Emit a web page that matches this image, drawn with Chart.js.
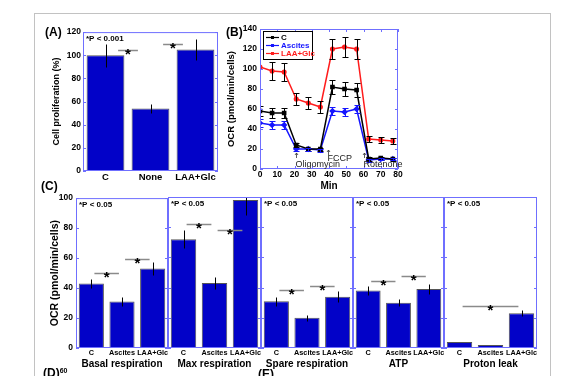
<!DOCTYPE html>
<html>
<head>
<meta charset="utf-8">
<script src="https://cdn.jsdelivr.net/npm/chart.js@4.4.0/dist/chart.umd.min.js"></script>
<style>
html, body { margin: 0; padding: 0; background: #fff; overflow: hidden; }
#fig { position: relative; width: 561px; height: 376px; overflow: hidden; font-family: "Liberation Sans", Arial, sans-serif; }
.frame { position: absolute; left: 34px; top: 13px; width: 517px; height: 420px; border: 1px solid #c2c2c2; box-sizing: border-box; }
.box { position: absolute; }
.tag { position: absolute; font-weight: bold; font-size: 12px; color: #000; line-height: 1; }
</style>
</head>
<body>
<div id="fig">
  <div class="frame"></div>
  <div class="box" style="left:40px;top:25px;width:185px;height:165px"><canvas id="chartA"></canvas></div>
  <div class="box" style="left:225px;top:15px;width:185px;height:180px"><canvas id="chartB"></canvas></div>
  <div class="box" style="left:40px;top:190px;width:128px;height:186px"><canvas id="chartC1"></canvas></div>
  <div class="box" style="left:168px;top:190px;width:93px;height:186px"><canvas id="chartC2"></canvas></div>
  <div class="box" style="left:261px;top:190px;width:92px;height:186px"><canvas id="chartC3"></canvas></div>
  <div class="box" style="left:353px;top:190px;width:91px;height:186px"><canvas id="chartC4"></canvas></div>
  <div class="box" style="left:444px;top:190px;width:93px;height:186px"><canvas id="chartC5"></canvas></div>
  <div class="tag" style="left:45px;top:26px">(A)</div>
  <div class="tag" style="left:226px;top:26px">(B)</div>
  <div class="tag" style="left:41px;top:180px">(C)</div>
  <div class="tag" style="left:43px;top:367px">(D)<span style="font-size:7px;vertical-align:top">60</span></div>
  <div class="tag" style="left:258px;top:368px">(E)</div>
</div>
<script>
// (A) cell proliferation
const propLabels = ['C', 'None', 'LAA+Glc'];
const propValues = [100, 54, 105];
const propErr = [10, 4, 9];
const propSig = [[0, 1, 104.5], [1, 2, 110]];

// (B) OCR time course
const ocrMin = [0, 7, 14, 21, 28, 35, 42, 49, 56, 63, 70, 77];
const ocrC = [58, 56, 56, 24, 20, 20, 82, 80, 79, 10, 11, 10];
const ocrCErr = [5, 5, 5, 2, 1.5, 1.5, 7, 7, 7, 2, 1.5, 1.5];
const ocrAscites = [46, 44, 44, 20, 20, 19, 58, 57, 60, 9, 10, 10];
const ocrAscitesErr = [4, 4, 4, 1.5, 1.5, 1.5, 4, 4, 4, 1.5, 1, 1];
const ocrLaa = [102, 98, 97, 70, 66, 62, 120, 122, 120, 30, 29, 28];
const ocrLaaErr = [0, 9, 9, 6, 6, 6, 10, 10, 10, 3, 3, 3];
const injectNames = ['Oligomycin', 'FCCP', 'Rotenone'];
const injectMin = [21, 39.5, 60.5];

// (C) respiration parameters
const groupLabels = ['C', 'Ascites', 'LAA+Glc'];
const basalVals = [43, 31, 53];
const basalErr = [3, 3, 4.5];
const basalSig = [[0, 1, 50], [1, 2, 59.5]];
const maxVals = [72, 43, 98];
const maxErr = [6, 4, 10];
const maxSig = [[0, 1, 82], [1, 2, 78]];
const spareVals = [31, 20, 34];
const spareErr = [3, 2, 3.5];
const spareSig = [[0, 1, 38.5], [1, 2, 41.3]];
const atpVals = [38, 30, 39];
const atpErr = [3, 2.4, 3.3];
const atpSig = [[0, 1, 44.4], [1, 2, 47.5]];
const leakVals = [4, 2, 23];
const leakErr = [0, 0.3, 2];
const leakSig = [[0, 2, 28]];

const barBlue = '#0202c8';
const axisBlue = '#6f6fff';
const fontFam = '"Liberation Sans", Arial, sans-serif';

Chart.defaults.font.family = fontFam;
Chart.defaults.font.weight = 'bold';
Chart.defaults.color = '#000';
Chart.defaults.animation = false;

// box around the plot area with inward ticks, matlab style
const boxAxes = {
  id: 'boxAxes',
  afterDatasetsDraw(chart, args, o) {
    const { ctx, chartArea: a, scales } = chart;
    ctx.save();
    ctx.strokeStyle = axisBlue;
    ctx.lineWidth = 1;
    ctx.strokeRect(a.left + 0.5, a.top + 0.5, a.right - a.left - 1, a.bottom - a.top - 1);
    ctx.beginPath();
    scales.y.ticks.forEach(t => {
      const py = Math.round(scales.y.getPixelForValue(t.value)) + 0.5;
      ctx.moveTo(a.left, py); ctx.lineTo(a.left + 3, py);
      ctx.moveTo(a.right, py); ctx.lineTo(a.right - 3, py);
    });
    if (o.xTicks) {
      scales.x.ticks.forEach(t => {
        const px = Math.round(scales.x.getPixelForValue(t.value)) + 0.5;
        ctx.moveTo(px, a.bottom); ctx.lineTo(px, a.bottom - 3);
        ctx.moveTo(px, a.top); ctx.lineTo(px, a.top + 3);
      });
    }
    ctx.stroke();
    ctx.restore();
  }
};

const errorBars = {
  id: 'errorBars',
  afterDatasetsDraw(chart, args, o) {
    if (!o.sets) return;
    const { ctx, chartArea: a } = chart;
    const ys = chart.scales.y;
    ctx.save();
    ctx.beginPath();
    ctx.rect(a.left, a.top, a.right - a.left, a.bottom - a.top);
    ctx.clip();
    o.sets.forEach((errs, di) => {
      const meta = chart.getDatasetMeta(di);
      const vals = chart.data.datasets[di].data;
      ctx.strokeStyle = o.colors ? o.colors[di] : '#000';
      ctx.lineWidth = 1;
      meta.data.forEach((el, i) => {
        const e = errs[i];
        if (!e) return;
        const v = typeof vals[i] === 'object' ? vals[i].y : vals[i];
        const x = Math.round(el.x) + 0.5;
        const t = Math.round(ys.getPixelForValue(v + e)) + 0.5;
        const b = Math.round(ys.getPixelForValue(v - e)) + 0.5;
        ctx.beginPath();
        ctx.moveTo(x, t); ctx.lineTo(x, b);
        if (o.cap) {
          ctx.moveTo(x - o.cap, t); ctx.lineTo(x + o.cap, t);
          ctx.moveTo(x - o.cap, b); ctx.lineTo(x + o.cap, b);
        }
        ctx.stroke();
      });
    });
    ctx.restore();
  }
};

// significance bars and the p-value note
const sigLines = {
  id: 'sigLines',
  afterDatasetsDraw(chart, args, o) {
    const { ctx, chartArea: a } = chart;
    const xs = chart.scales.x, ys = chart.scales.y;
    const cat = xs.getPixelForValue(1) - xs.getPixelForValue(0);
    ctx.save();
    (o.lines || []).forEach(([i, j, v]) => {
      const x0 = xs.getPixelForValue(i) + cat * o.inset;
      const x1 = xs.getPixelForValue(j) - cat * o.inset;
      const y = Math.round(ys.getPixelForValue(v)) + 0.5;
      ctx.strokeStyle = '#8a8a8a';
      ctx.lineWidth = 1.5;
      ctx.beginPath(); ctx.moveTo(x0, y); ctx.lineTo(x1, y); ctx.stroke();
      ctx.fillStyle = '#000';
      ctx.font = 'bold 15px ' + fontFam;
      ctx.textAlign = 'center';
      ctx.textBaseline = 'alphabetic';
      ctx.fillText('*', (x0 + x1) / 2, y + 8);
    });
    if (o.note) {
      ctx.fillStyle = '#000';
      ctx.font = 'bold 8px ' + fontFam;
      ctx.textAlign = 'left';
      ctx.textBaseline = 'top';
      ctx.fillText(o.note, a.left + 3, a.top + 3);
    }
    ctx.restore();
  }
};

const ocrExtras = {
  id: 'ocrExtras',
  afterDraw(chart) {
    const { ctx, chartArea: a } = chart;
    const xs = chart.scales.x;
    ctx.save();
    // legend box
    const lx = a.left + 3, ly = a.top + 2, lw = 49, lh = 28;
    ctx.fillStyle = '#fff';
    ctx.fillRect(lx, ly, lw, lh);
    ctx.strokeStyle = '#000';
    ctx.lineWidth = 1;
    ctx.strokeRect(lx + 0.5, ly + 0.5, lw, lh);
    chart.data.datasets.forEach((ds, k) => {
      const yy = ly + 6.5 + k * 8;
      ctx.strokeStyle = ds.borderColor;
      ctx.lineWidth = 1.2;
      ctx.beginPath(); ctx.moveTo(lx + 3, yy); ctx.lineTo(lx + 16, yy); ctx.stroke();
      ctx.fillStyle = ds.borderColor;
      ctx.fillRect(lx + 8, yy - 1.5, 3, 3);
      ctx.font = 'bold 8px ' + fontFam;
      ctx.textAlign = 'left';
      ctx.textBaseline = 'middle';
      ctx.fillText(ds.label, lx + 18, yy + 0.5);
    });
    // injection markers
    const arrowY = [[16, 11, 2], [19, 14, 8], [16, 11, 2]];
    ctx.strokeStyle = '#333';
    ctx.fillStyle = '#222';
    ctx.lineWidth = 0.8;
    ctx.font = '9px ' + fontFam;
    ctx.textAlign = 'left';
    ctx.textBaseline = 'alphabetic';
    injectNames.forEach((name, k) => {
      const x = Math.round(xs.getPixelForValue(injectMin[k])) + 0.5;
      const [t, b, base] = arrowY[k];
      ctx.beginPath();
      ctx.moveTo(x, a.bottom - b); ctx.lineTo(x, a.bottom - t);
      ctx.moveTo(x - 1.5, a.bottom - t + 2); ctx.lineTo(x, a.bottom - t); ctx.lineTo(x + 1.5, a.bottom - t + 2);
      ctx.stroke();
      ctx.fillText(name, x - 1, a.bottom - base);
    });
    ctx.restore();
  }
};

// (A)
new Chart(document.getElementById('chartA'), {
  type: 'bar',
  data: {
    labels: propLabels,
    datasets: [{
      data: propValues,
      backgroundColor: barBlue,
      borderColor: '#555',
      borderWidth: 1,
      barPercentage: 0.84,
      categoryPercentage: 1
    }]
  },
  options: {
    responsive: true,
    maintainAspectRatio: false,
    layout: { padding: { left: 0, right: 7, top: 7, bottom: 0 } },
    plugins: {
      legend: { display: false },
      tooltip: { enabled: false },
      errorBars: { sets: [propErr] },
      sigLines: { lines: propSig, inset: 0.28, note: '*P < 0.001' },
      boxAxes: {}
    },
    scales: {
      x: {
        grid: { display: false, drawTicks: false, tickLength: 0 },
        border: { display: false },
        ticks: { font: { size: 9.5 }, padding: 1, autoSkip: false, maxRotation: 0 },
        afterFit: s => { s.height = 19; }
      },
      y: {
        min: 0, max: 120,
        ticks: { stepSize: 20, font: { size: 8.5 }, padding: 2 },
        grid: { display: false, drawTicks: false, tickLength: 0 },
        border: { display: false },
        title: { display: true, text: 'Cell proliferation (%)', font: { size: 9 }, padding: { top: 11, bottom: 0 } },
        afterFit: s => { s.width = 43; }
      }
    }
  },
  plugins: [errorBars, sigLines, boxAxes]
});

// (B)
const ptsOf = vals => ocrMin.map((m, i) => ({ x: m, y: vals[i] }));
new Chart(document.getElementById('chartB'), {
  type: 'line',
  data: {
    datasets: [
      { label: 'C', data: ptsOf(ocrC), borderColor: '#000', backgroundColor: '#000', borderWidth: 1.5, pointStyle: 'rect', pointRadius: 2.2 },
      { label: 'Ascites', data: ptsOf(ocrAscites), borderColor: '#1515ff', backgroundColor: '#1515ff', borderWidth: 1.5, pointStyle: 'rectRot', pointRadius: 2.2 },
      { label: 'LAA+Glc', data: ptsOf(ocrLaa), borderColor: '#ff1c1c', backgroundColor: '#ff1c1c', borderWidth: 1.5, pointStyle: 'circle', pointRadius: 1.8 }
    ]
  },
  options: {
    responsive: true,
    maintainAspectRatio: false,
    layout: { padding: { left: 0, right: 12, top: 14, bottom: 0 } },
    plugins: {
      legend: { display: false },
      tooltip: { enabled: false },
      errorBars: { sets: [ocrCErr, ocrAscitesErr, ocrLaaErr], colors: ['#000', '#1515ff', '#000'], cap: 3 },
      boxAxes: { xTicks: true }
    },
    scales: {
      x: {
        type: 'linear', min: 0, max: 80,
        ticks: { stepSize: 10, font: { size: 8.5 }, padding: 1, maxRotation: 0 },
        grid: { display: false, drawTicks: false, tickLength: 0 },
        border: { display: false },
        title: { display: true, text: 'Min', font: { size: 10 }, padding: { top: 0, bottom: 3 } },
        afterFit: s => { s.height = 26; }
      },
      y: {
        min: 0, max: 140,
        ticks: { stepSize: 20, font: { size: 8.5 }, padding: 3 },
        grid: { display: false, drawTicks: false, tickLength: 0 },
        border: { display: false },
        title: { display: true, text: 'OCR (pmol/min/cells)', font: { size: 9.5 }, padding: { top: 1, bottom: 0 } },
        afterFit: s => { s.width = 35; }
      }
    }
  },
  plugins: [errorBars, boxAxes, ocrExtras]
});

// (C) five sub panels sharing one y range
function paramChart(id, title, vals, errs, sig, first) {
  new Chart(document.getElementById(id), {
    type: 'bar',
    data: {
      labels: groupLabels,
      datasets: [{
        data: vals,
        backgroundColor: barBlue,
        borderColor: '#555',
        borderWidth: 1,
        barPercentage: 0.82,
        categoryPercentage: 1
      }]
    },
    options: {
      responsive: true,
      maintainAspectRatio: false,
      layout: { padding: { left: 0, right: 0, top: 7, bottom: 0 } },
      plugins: {
        legend: { display: false },
        tooltip: { enabled: false },
        errorBars: { sets: [errs] },
        sigLines: { lines: sig, inset: 0.1, note: '*P < 0.05' },
        boxAxes: {}
      },
      scales: {
        x: {
          grid: { display: false, drawTicks: false, tickLength: 0 },
          border: { display: false },
          ticks: { font: { size: 7.3 }, padding: 1, autoSkip: false, maxRotation: 0 },
          title: { display: true, text: title, font: { size: 10 }, padding: { top: 0, bottom: 6 } },
          afterFit: s => { s.height = 28; s.paddingLeft = 0; s.paddingRight = 0; }
        },
        y: {
          display: first,
          min: 0, max: 100,
          ticks: { stepSize: 20, font: { size: 8.5 }, padding: 3 },
          grid: { display: false, drawTicks: false, tickLength: 0 },
          border: { display: false },
          title: { display: true, text: 'OCR (pmol/min/cells)', font: { size: 10.5 }, padding: { top: 9, bottom: 0 } },
          afterFit: s => { s.width = first ? 36 : 0; }
        }
      }
    },
    plugins: [errorBars, sigLines, boxAxes]
  });
}

paramChart('chartC1', 'Basal respiration', basalVals, basalErr, basalSig, true);
paramChart('chartC2', 'Max respiration', maxVals, maxErr, maxSig, false);
paramChart('chartC3', 'Spare respiration', spareVals, spareErr, spareSig, false);
paramChart('chartC4', 'ATP', atpVals, atpErr, atpSig, false);
paramChart('chartC5', 'Proton leak', leakVals, leakErr, leakSig, false);
</script>
</body>
</html>
